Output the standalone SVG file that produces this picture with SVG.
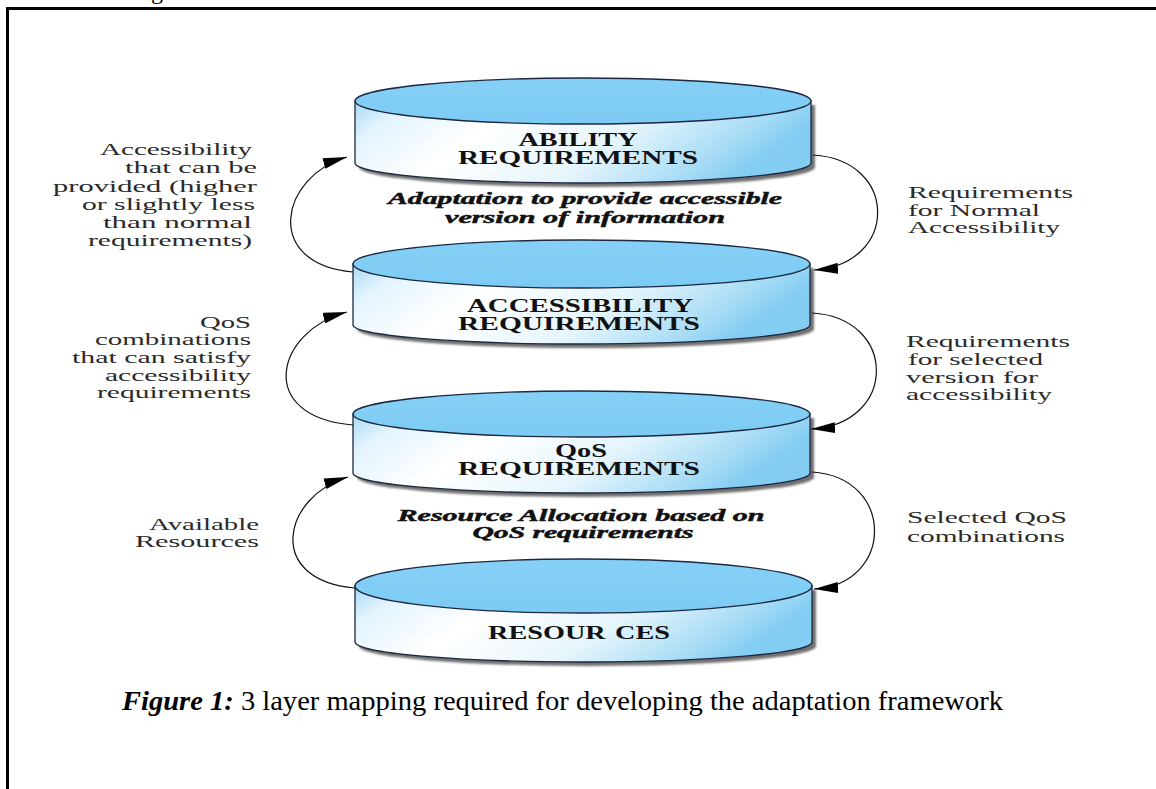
<svg xmlns="http://www.w3.org/2000/svg" width="1156" height="789" viewBox="0 0 1156 789">
  <style>
    .frame { fill: none; stroke: #000; stroke-width: 3; }
    .body { fill: url(#sideFill); stroke: #1c2840; stroke-width: 1.3; }
    .shade { fill: #6f6f6f; filter: url(#soft); }
    .top { fill: url(#topFill); stroke: #1c2840; stroke-width: 1.3; }
    .label { font-family: "Liberation Serif", "Times New Roman", serif; font-weight: bold; font-size: 18px; fill: #111; text-anchor: middle; }
    .note { font-family: "Liberation Serif", "Times New Roman", serif; font-weight: bold; font-style: italic; font-size: 16px; fill: #111; stroke: #111; stroke-width: 0.45; text-anchor: middle; }
    .side { font-family: "Liberation Serif", "Times New Roman", serif; font-size: 16px; fill: #2a2a2a; }
    .left { text-anchor: end; }
    .link { fill: none; stroke: #111; stroke-width: 1.2; marker-end: url(#head); }
    .caption { font-family: "Liberation Serif", "Times New Roman", serif; font-size: 27px; fill: #000; }
  </style>
  <defs>
    <linearGradient id="sideFill" x1="0" y1="0" x2="1" y2="0.25">
      <stop offset="0" stop-color="#a9daf4"/>
      <stop offset="0.12" stop-color="#e3f4fd"/>
      <stop offset="0.35" stop-color="#ffffff"/>
      <stop offset="0.65" stop-color="#e6f5fc"/>
      <stop offset="0.9" stop-color="#a5dbf5"/>
      <stop offset="1" stop-color="#84cdf2"/>
    </linearGradient>
    <linearGradient id="topFill" x1="0" y1="0" x2="0" y2="1">
      <stop offset="0" stop-color="#86d0f6"/>
      <stop offset="1" stop-color="#7ccbf4"/>
    </linearGradient>
    <filter id="soft" x="-5%" y="-20%" width="110%" height="140%">
      <feGaussianBlur stdDeviation="1.2"/>
    </filter>
    <marker id="head" viewBox="0 0 24 11" refX="24" refY="5.5" markerWidth="24" markerHeight="11" markerUnits="userSpaceOnUse" orient="auto">
      <path d="M0,0 L24,5.5 L0,11 Z" fill="#000"/>
    </marker>
  </defs>

  <rect width="1156" height="789" fill="#fff"/>

  <!-- page frame, running off the right and bottom edges -->
  <rect class="frame" x="7.5" y="8.5" width="1200" height="900"/>
  <text x="151" y="-1" font-family="Liberation Serif, serif" font-size="24" fill="#000">g</text>

  <!-- layer 1 -->
  <g id="ability">
    <path class="shade" d="M359,105 L359,167 A228,20 0 0 0 815,167 L815,105 Z"/>
    <path class="body" d="M355,101 L355,163 A228,20 0 0 0 811,163 L811,101 Z"/>
    <ellipse class="top" cx="583" cy="101" rx="228" ry="23"/>
    <text class="label" x="578" y="146" textLength="119" lengthAdjust="spacingAndGlyphs">ABILITY</text>
    <text class="label" x="578" y="164" textLength="240" lengthAdjust="spacingAndGlyphs">REQUIREMENTS</text>
  </g>

  <!-- layer 2 -->
  <g id="accessibility">
    <path class="shade" d="M357,268 L357,329 A228.5,19 0 0 0 814,329 L814,268 Z"/>
    <path class="body" d="M353,264 L353,325 A228.5,19 0 0 0 810,325 L810,264 Z"/>
    <ellipse class="top" cx="581.5" cy="264" rx="228.5" ry="24"/>
    <text class="label" x="580" y="312" textLength="226" lengthAdjust="spacingAndGlyphs">ACCESSIBILITY</text>
    <text class="label" x="579" y="330" textLength="242" lengthAdjust="spacingAndGlyphs">REQUIREMENTS</text>
  </g>

  <!-- layer 3 -->
  <g id="qos">
    <path class="shade" d="M357,418 L357,477 A228.5,20 0 0 0 814,477 L814,418 Z"/>
    <path class="body" d="M353,414 L353,473 A228.5,20 0 0 0 810,473 L810,414 Z"/>
    <ellipse class="top" cx="581.5" cy="414" rx="228.5" ry="23"/>
    <text class="label" x="581" y="457" textLength="52" lengthAdjust="spacingAndGlyphs">QoS</text>
    <text class="label" x="579" y="475" textLength="242" lengthAdjust="spacingAndGlyphs">REQUIREMENTS</text>
  </g>

  <!-- base layer -->
  <g id="resources">
    <path class="shade" d="M359,590 L359,646 A228.5,20 0 0 0 816,646 L816,590 Z"/>
    <path class="body" d="M355,586 L355,642 A228.5,20 0 0 0 812,642 L812,586 Z"/>
    <ellipse class="top" cx="583.5" cy="586" rx="228.5" ry="27"/>
    <text class="label" x="579" y="639" textLength="182" lengthAdjust="spacingAndGlyphs">RESOUR<tspan dx="6">CES</tspan></text>
  </g>

  <!-- notes between layers -->
  <g id="note-adaptation">
    <text class="note" x="585" y="204" textLength="394" lengthAdjust="spacingAndGlyphs">Adaptation to provide accessible</text>
    <text class="note" x="585" y="223" textLength="280" lengthAdjust="spacingAndGlyphs">version of information</text>
  </g>
  <g id="note-allocation">
    <text class="note" x="581" y="521" textLength="367" lengthAdjust="spacingAndGlyphs">Resource Allocation based on</text>
    <text class="note" x="583" y="538" textLength="221" lengthAdjust="spacingAndGlyphs">QoS requirements</text>
  </g>

  <!-- connectors -->
  <g id="connectors">
    <path class="link" d="M353,272 C262,264 280,176 347,157"/>
    <path class="link" d="M353,425 C255,417 275,331 347,312"/>
    <path class="link" d="M355,588 C264,580 283,496 348,477"/>
    <path class="link" d="M813,155 C899,160 899,264 814,270"/>
    <path class="link" d="M812,313 C898,318 898,424 811,429"/>
    <path class="link" d="M812,472 C895,477 895,584 814,589"/>
  </g>

  <!-- connector labels, left -->
  <g id="label-provided">
    <text class="side left" x="252" y="155" textLength="152" lengthAdjust="spacingAndGlyphs">Accessibility</text>
    <text class="side left" x="257" y="173" textLength="132" lengthAdjust="spacingAndGlyphs">that can be</text>
    <text class="side left" x="257" y="192" textLength="204" lengthAdjust="spacingAndGlyphs">provided (higher</text>
    <text class="side left" x="255" y="210" textLength="173" lengthAdjust="spacingAndGlyphs">or slightly less</text>
    <text class="side left" x="252" y="228" textLength="149" lengthAdjust="spacingAndGlyphs">than normal</text>
    <text class="side left" x="252" y="246" textLength="164" lengthAdjust="spacingAndGlyphs">requirements)</text>
  </g>
  <g id="label-combinations">
    <text class="side left" x="251" y="328" textLength="51" lengthAdjust="spacingAndGlyphs">QoS</text>
    <text class="side left" x="251" y="345" textLength="156" lengthAdjust="spacingAndGlyphs">combinations</text>
    <text class="side left" x="251" y="363" textLength="179" lengthAdjust="spacingAndGlyphs">that can satisfy</text>
    <text class="side left" x="251" y="381" textLength="146" lengthAdjust="spacingAndGlyphs">accessibility</text>
    <text class="side left" x="251" y="398" textLength="154" lengthAdjust="spacingAndGlyphs">requirements</text>
  </g>
  <g id="label-available">
    <text class="side left" x="259" y="530" textLength="110" lengthAdjust="spacingAndGlyphs">Available</text>
    <text class="side left" x="259" y="547" textLength="124" lengthAdjust="spacingAndGlyphs">Resources</text>
  </g>

  <!-- connector labels, right -->
  <g id="label-normal">
    <text class="side" x="908" y="198" textLength="165" lengthAdjust="spacingAndGlyphs">Requirements</text>
    <text class="side" x="908" y="216" textLength="132" lengthAdjust="spacingAndGlyphs">for Normal</text>
    <text class="side" x="908" y="233" textLength="152" lengthAdjust="spacingAndGlyphs">Accessibility</text>
  </g>
  <g id="label-selected-version">
    <text class="side" x="906" y="347" textLength="164" lengthAdjust="spacingAndGlyphs">Requirements</text>
    <text class="side" x="908" y="365" textLength="135" lengthAdjust="spacingAndGlyphs">for selected</text>
    <text class="side" x="906" y="383" textLength="132" lengthAdjust="spacingAndGlyphs">version for</text>
    <text class="side" x="906" y="400" textLength="146" lengthAdjust="spacingAndGlyphs">accessibility</text>
  </g>
  <g id="label-selected-qos">
    <text class="side" x="907" y="523" textLength="160" lengthAdjust="spacingAndGlyphs">Selected QoS</text>
    <text class="side" x="907" y="542" textLength="158" lengthAdjust="spacingAndGlyphs">combinations</text>
  </g>

  <!-- caption -->
  <text class="caption" x="122" y="710" textLength="881" lengthAdjust="spacingAndGlyphs"><tspan font-weight="bold" font-style="italic">Figure 1:</tspan> 3 layer mapping required for developing the adaptation framework</text>
</svg>
